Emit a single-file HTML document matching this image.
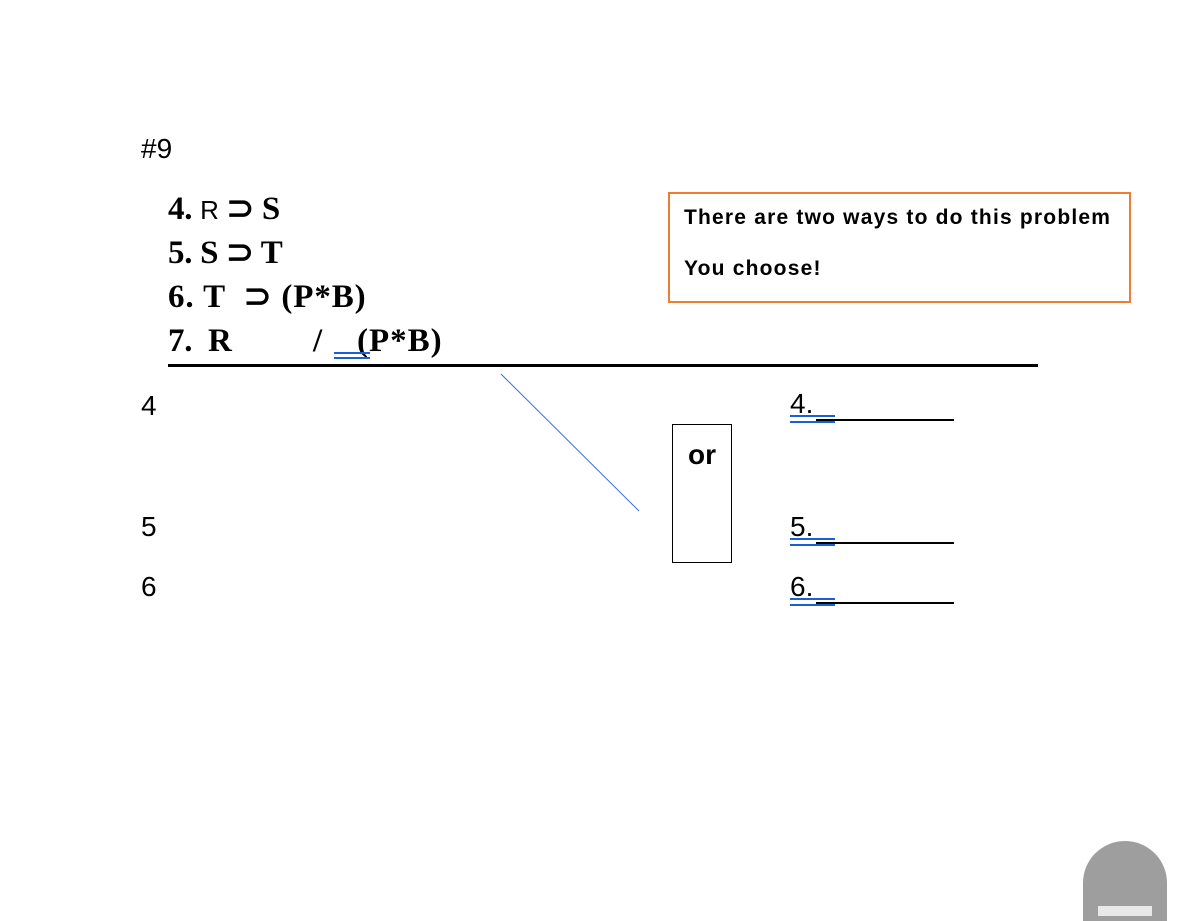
<!DOCTYPE html>
<html><head><style>
body{margin:0;width:1179px;height:912px;background:#fff;position:relative;overflow:hidden;font-family:"Liberation Sans",sans-serif}
.a{position:absolute;white-space:nowrap;line-height:1}
.s{font-family:"Liberation Serif",serif;font-weight:bold;font-size:33px;letter-spacing:-0.3px}
.n{font-size:28px;color:#000}
.bl{position:absolute;background:#1a5fd6;height:3px}
.k{position:absolute;background:#000;height:2px}
</style></head><body>
<div class="a n" style="left:141px;top:135px;font-size:28px">#9</div>
<div class="a s" style="left:168px;top:193px">4. <span style="font-family:'Liberation Sans';font-size:26px;font-weight:normal">R</span> ⊃ S</div>
<div class="a s" style="left:168px;top:237px">5. S ⊃ T</div>
<div class="a s" style="left:168px;top:281px;letter-spacing:0.9px">6. T &nbsp;⊃ (P*B)</div>
<div class="a s" style="left:168px;top:325px">7. &nbsp;R</div>
<div class="a s" style="left:313px;top:325px">/</div>
<div class="a s" style="left:357px;top:325px;letter-spacing:1px">(P*B)</div>
<div class="bl" style="left:334px;top:352px;width:36px;height:2px"></div>
<div class="bl" style="left:334px;top:357px;width:36px;height:2px"></div>
<div style="position:absolute;left:168px;top:364px;width:870px;height:3px;background:#000"></div>
<svg style="position:absolute;left:0;top:0" width="1179" height="912"><line x1="501" y1="374" x2="639" y2="511" stroke="#2f6ce0" stroke-width="1"/></svg>
<div style="position:absolute;left:668px;top:192px;width:459px;height:107px;border:2px solid #ed7d31"></div>
<div class="a" style="left:684px;top:207px;font-weight:bold;font-size:21px;letter-spacing:1.2px">There are two ways to do this problem</div>
<div class="a" style="left:684px;top:258px;font-weight:bold;font-size:21px;letter-spacing:1.2px">You choose!</div>
<div style="position:absolute;left:672px;top:424px;width:58px;height:137px;border:1px solid #000"></div>
<div class="a" style="left:688px;top:441px;font-weight:bold;font-size:28px">or</div>
<div class="a n" style="left:141px;top:392px">4</div>
<div class="a n" style="left:141px;top:513px">5</div>
<div class="a n" style="left:141px;top:573px">6</div>
<div class="a n" style="left:790px;top:390px">4.</div>
<div class="k" style="left:816px;top:419px;width:138px"></div>
<div class="bl" style="left:790px;top:415px;width:45px;height:2px"></div>
<div class="bl" style="left:790px;top:421px;width:45px;height:2px"></div>
<div class="a n" style="left:790px;top:513px">5.</div>
<div class="k" style="left:816px;top:542px;width:138px"></div>
<div class="bl" style="left:790px;top:538px;width:45px;height:2px"></div>
<div class="bl" style="left:790px;top:544px;width:45px;height:2px"></div>
<div class="a n" style="left:790px;top:573px">6.</div>
<div class="k" style="left:816px;top:602px;width:138px"></div>
<div class="bl" style="left:790px;top:598px;width:45px;height:2px"></div>
<div class="bl" style="left:790px;top:604px;width:45px;height:2px"></div>
<div style="position:absolute;left:1083px;top:841px;width:84px;height:80px;background:#9e9e9e;border-radius:42px 42px 0 0"></div>
<div style="position:absolute;left:1098px;top:906px;width:54px;height:10px;background:#e8e8e8"></div>
</body></html>
